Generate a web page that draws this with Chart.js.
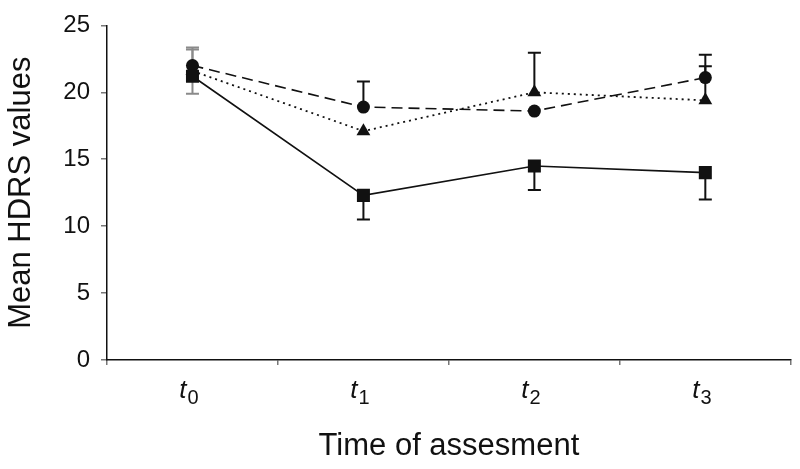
<!DOCTYPE html>
<html>
<head>
<meta charset="utf-8">
<script src="https://cdn.jsdelivr.net/npm/chart.js@4"></script>
<style>
  html, body { margin: 0; padding: 0; background: #fff; }
  #wrap { width: 800px; height: 469px; }
</style>
</head>
<body>
<div id="wrap"><canvas id="hdrs-chart"></canvas></div>
<script>
const timeLabels = ["t0", "t1", "t2", "t3"];
const yTicks = [0, 5, 10, 15, 20, 25];

//Series values (mean HDRS)
const squareValues = [21.2, 12.3, 14.5, 14.0];
const circleValues = [22.0, 18.9, 18.6, 21.1];
const triangleValues = [21.6, 17.1, 20.0, 19.4];

//Error bars (square goes down, the others go up)
const squareErrDown = [1.3, 1.8, 1.8, 2.0];
const circleErrUp = [1.35, 1.9, null, 1.7];
const triangleErrUp = [1.6, null, 2.95, 2.55];

const ink = '#111';

//Error bars, drawn under the markers
const errorBars = {
  id: 'errorBars',
  beforeDatasetsDraw(chart) {
    const ctx = chart.ctx;
    const y = chart.scales.y;
    const sets = [
      { idx: 0, err: squareErrDown, dir: -1 },
      { idx: 1, err: circleErrUp, dir: 1 },
      { idx: 2, err: triangleErrUp, dir: 1 }
    ];
    ctx.save();
    ctx.lineWidth = 2;
    sets.forEach(s => {
      const meta = chart.getDatasetMeta(s.idx);
      const vals = chart.data.datasets[s.idx].data;
      meta.data.forEach((pt, i) => {
        const e = s.err[i];
        if (e == null) return;
        const y0 = y.getPixelForValue(vals[i]);
        const y1 = y.getPixelForValue(vals[i] + s.dir * e);
        ctx.strokeStyle = i === 0 ? '#8a8a8a' : ink;
        ctx.beginPath();
        ctx.moveTo(pt.x, y0);
        ctx.lineTo(pt.x, y1);
        ctx.moveTo(pt.x - 6.5, y1);
        ctx.lineTo(pt.x + 6.5, y1);
        ctx.stroke();
      });
    });
    ctx.restore();
  }
};

//Italic t with subscript index
const timeTicks = {
  id: 'timeTicks',
  afterDraw(chart) {
    const ctx = chart.ctx;
    const x = chart.scales.x;
    ctx.save();
    ctx.fillStyle = ink;
    ctx.textBaseline = 'alphabetic';
    timeLabels.forEach((lab, i) => {
      const cx = x.getPixelForValue(i);
      const base = lab.charAt(0);
      const sub = lab.slice(1);
      ctx.font = 'italic 26px "Liberation Sans"';
      const bw = ctx.measureText(base).width;
      ctx.font = '20px "Liberation Sans"';
      const sw = ctx.measureText(sub).width;
      const left = cx - (bw + sw) / 2 - 4;
      ctx.font = 'italic 26px "Liberation Sans"';
      ctx.fillText(base, left, 398);
      ctx.font = '20px "Liberation Sans"';
      ctx.fillText(sub, left + bw + 1, 404);
    });
    ctx.restore();
  }
};

const hdrsData = {
  labels: timeLabels,
  datasets: [
    {
      data: squareValues,
      borderColor: ink,
      backgroundColor: ink,
      borderWidth: 1.6,
      pointStyle: 'rect',
      pointRadius: 9.2,
      pointBorderWidth: 0
    },
    {
      data: circleValues,
      borderColor: ink,
      backgroundColor: ink,
      borderWidth: 1.6,
      borderDash: [11, 6],
      pointStyle: 'circle',
      pointRadius: 6.5,
      pointBorderWidth: 0
    },
    {
      data: triangleValues,
      borderColor: ink,
      backgroundColor: ink,
      borderWidth: 1.8,
      borderDash: [2, 4],
      pointStyle: 'triangle',
      pointRadius: 8,
      pointBorderWidth: 0
    }
  ]
};

const hdrsOptions = {
  responsive: true,
  maintainAspectRatio: false,
  animation: false,
  layout: {
    padding: { top: 23, right: 8, left: 0, bottom: 0 }
  },
  scales: {
    x: {
      type: 'category',
      offset: true,
      afterFit: (s) => { s.height = 109; },
      border: { color: ink, width: 1.5 },
      grid: {
        offset: true,
        drawOnChartArea: false,
        color: '#777',
        tickLength: 5,
        lineWidth: 1.5
      },
      ticks: { display: false },
      title: {
        display: true,
        text: 'Time of assesment',
        color: ink,
        font: { family: 'Liberation Sans', size: 31 },
        padding: { top: 0, bottom: 4 }
      }
    },
    y: {
      min: 0,
      max: 25,
      afterFit: (s) => { s.width = 107; },
      afterBuildTicks: (s) => { s.ticks = yTicks.map(v => ({ value: v })); },
      border: { color: ink, width: 1.5 },
      grid: {
        drawOnChartArea: false,
        color: '#777',
        tickLength: 6,
        lineWidth: 1.5
      },
      ticks: {
        color: ink,
        padding: 11,
        font: { family: 'Liberation Sans', size: 24 }
      },
      title: {
        display: true,
        text: 'Mean HDRS values',
        color: ink,
        font: { family: 'Liberation Sans', size: 31 },
        padding: { top: 3, bottom: 0 }
      }
    }
  },
  plugins: {
    legend: { display: false },
    tooltip: { enabled: false }
  }
};

const hdrsChart = new Chart(document.getElementById('hdrs-chart'), {
  type: 'line',
  data: hdrsData,
  options: hdrsOptions,
  plugins: [errorBars, timeTicks]
});
</script>
</body>
</html>
